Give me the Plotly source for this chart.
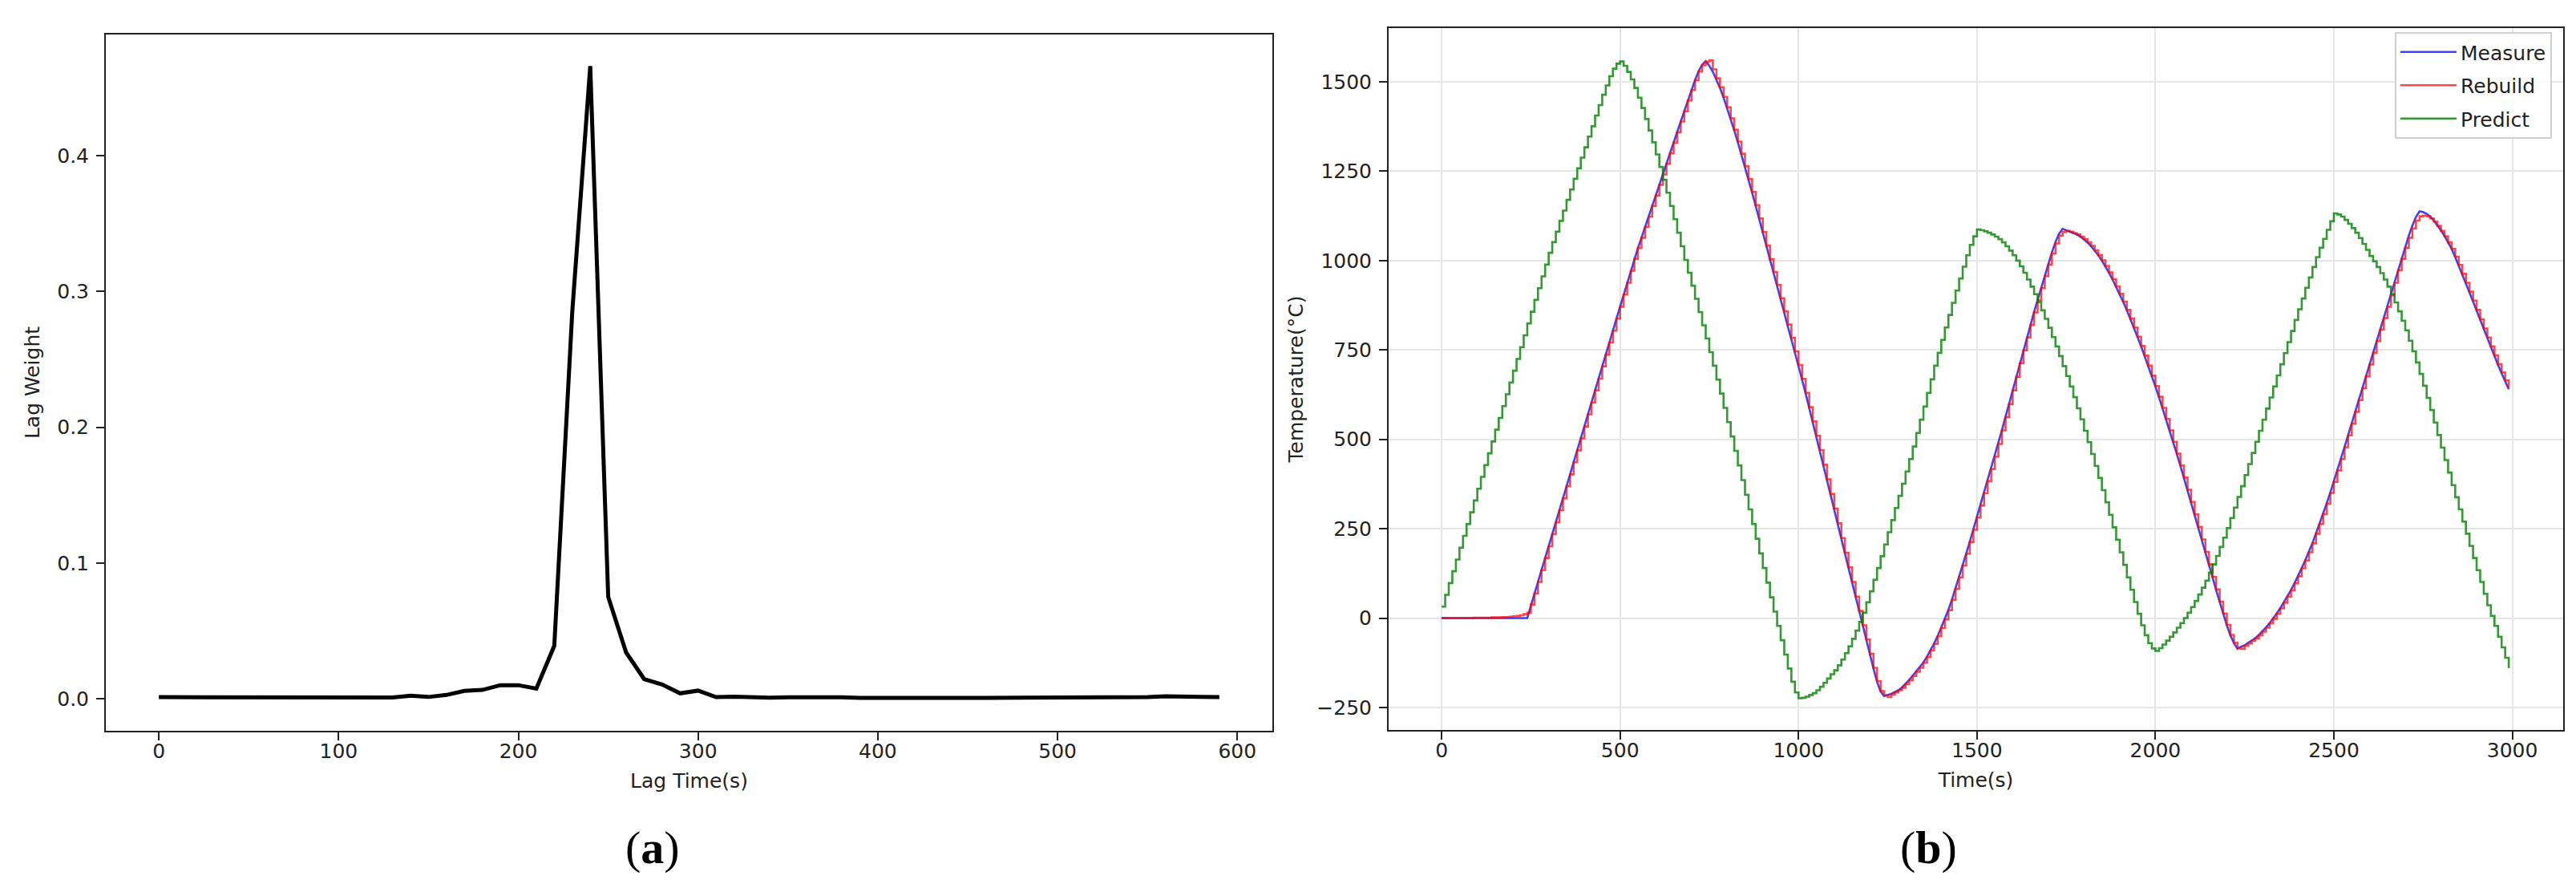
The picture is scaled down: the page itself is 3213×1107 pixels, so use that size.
import plotly.graph_objects as go

# ---------------- Panel (a): lag weights ----------------
lag_time = list(range(0, 600, 10))
lag_weight = [
    0.0012, 0.0012, 0.0007, 0.0010, 0.0008, 0.0006, 0.0006, 0.0007, 0.0008, 0.0009,
    0.0006, 0.0009, 0.0010, 0.0009, 0.0022, 0.0013, 0.0028, 0.0058, 0.0065, 0.0100,
    0.0100, 0.0075, 0.0390, 0.2850, 0.4660, 0.0750, 0.0340, 0.0145, 0.0105, 0.0040,
    0.0060, 0.0012, 0.0015, 0.0010, 0.0008, 0.0010, 0.0011, 0.0008, 0.0010, 0.0006,
    0.0005, 0.0005, 0.0006, 0.0006, 0.0005, 0.0006, 0.0007, 0.0007, 0.0008, 0.0008,
    0.0007, 0.0009, 0.0009, 0.0008, 0.0008, 0.0012, 0.0018, 0.0013, 0.0014, 0.0012,
]

# ---------------- Panel (b): temperatures ----------------
time_s = list(range(0, 3000, 10))

measure = [
    0, 0, 0, 0, 0, 0, 0, 0, 0, 0, 0, 0, 0, 0, 0, 0, 0, 0, 0, 0, 0, 0, 0, 0,
    0, 34, 67, 101, 134, 168, 201, 235, 268, 302, 335, 369, 402, 436, 469, 503,
    536, 570, 603, 637, 670, 704, 737, 771, 804, 838, 871, 905, 938, 972, 1005,
    1035, 1064, 1094, 1123, 1153, 1182, 1212, 1241, 1271, 1300, 1330, 1359, 1389,
    1418, 1448, 1477, 1505, 1530, 1548, 1558,
    1545, 1528, 1507, 1483, 1456, 1427, 1396, 1364, 1331, 1297, 1262, 1226, 1190,
    1153, 1116, 1078, 1040, 1002, 966, 930, 893, 856, 819, 782, 744, 706, 667, 628,
    588, 548, 508, 468, 427, 386, 345, 304, 263, 222, 181, 140, 99, 58, 18, -22,
    -62, -102, -141, -178, -205, -218,
    -215, -212, -207, -202, -194, -184, -173, -161, -149, -138, -124, -108, -90,
    -71, -50, -27, -3, 23, 52, 83, 115, 148, 181, 214, 248, 282, 316, 350, 384,
    418, 453, 488, 526, 563, 600, 638, 676, 714, 750, 786, 821, 856, 890, 924, 958,
    991, 1023, 1052, 1075, 1089,
    1085, 1082, 1078, 1073, 1067, 1060, 1051, 1040, 1028, 1015, 1000, 984, 966,
    947, 927, 906, 884, 861, 837, 812, 786, 760, 733, 705, 677, 648, 618, 587, 556,
    524, 492, 459, 426, 392, 358, 324, 289, 254, 219, 184, 149, 114, 79, 45, 12,
    -20, -48, -70, -86,
    -80, -76, -70, -63, -56, -47, -37, -26, -14, -1, 13, 28, 44, 61, 79, 98, 118,
    140, 162, 185, 210, 237, 264, 292, 321, 351, 382, 414, 446, 479, 512, 545, 578,
    611, 644, 677, 710, 743, 776, 808, 840, 872, 904, 939, 975, 1008, 1040, 1070,
    1098, 1122, 1138,
    1136, 1131, 1123, 1112, 1099, 1085, 1069, 1052, 1033, 1010, 986, 961, 936, 911,
    886, 860, 834, 808, 783, 758, 733, 708, 685, 662, 640,
]

rebuild = [
    0, 0, 0, 0, 0, 0, 0, 0, 0, 1, 1, 1, 1, 1, 2, 2, 2, 3, 3, 4, 5, 6, 8, 11,
    15, 38, 69, 101, 134, 168, 201, 235, 268, 302, 335, 369, 402, 436, 469, 503,
    536, 570, 603, 637, 670, 704, 737, 771, 804, 838, 871, 905, 938, 972, 1005,
    1035, 1064, 1094, 1123, 1153, 1182, 1212, 1241, 1271, 1300, 1330, 1359, 1389,
    1418, 1448, 1477, 1505, 1529, 1546, 1556,
    1560, 1535, 1510, 1485, 1458, 1429, 1398, 1366, 1333, 1299, 1264, 1228, 1192,
    1155, 1118, 1080, 1042, 1004, 968, 932, 895, 858, 821, 784, 746, 708, 669, 630,
    590, 550, 510, 470, 429, 388, 347, 306, 265, 224, 183, 142, 101, 60, 20, -20,
    -60, -100, -139, -176, -204, -216,
    -221, -214, -208, -202, -195, -185, -174, -162, -150, -139, -125, -109, -91,
    -72, -51, -28, -4, 22, 51, 82, 114, 147, 180, 213, 247, 281, 315, 349, 383,
    417, 452, 487, 525, 562, 599, 637, 675, 713, 749, 785, 820, 855, 889, 923, 957,
    989, 1020, 1048, 1070, 1080,
    1083, 1081, 1077, 1073, 1067, 1060, 1051, 1041, 1029, 1016, 1001, 985, 967,
    948, 928, 907, 885, 862, 838, 813, 787, 761, 734, 706, 678, 649, 619, 588, 557,
    525, 493, 460, 427, 393, 359, 325, 290, 255, 220, 185, 150, 115, 80, 46, 13,
    -19, -47, -69, -84,
    -86, -78, -71, -64, -57, -48, -38, -27, -15, -2, 12, 27, 43, 60, 78, 97, 117,
    139, 161, 184, 209, 236, 263, 291, 320, 350, 381, 413, 445, 478, 511, 544, 577,
    610, 643, 676, 709, 742, 775, 807, 839, 871, 903, 938, 973, 1005, 1036, 1064,
    1090, 1112, 1124,
    1126, 1124, 1118, 1109, 1097, 1083, 1068, 1051, 1033, 1011, 988, 963, 938, 913,
    888, 862, 836, 810, 785, 760, 735, 710, 687, 665, 645,
]

predict = [
    32, 65, 98, 131, 164, 197, 230, 263, 296, 329, 362, 395, 428, 461, 494, 527,
    560, 593, 626, 659, 692, 725, 758, 791, 824, 857, 890, 923, 956, 989, 1022,
    1052, 1081, 1111, 1140, 1170, 1199, 1229, 1258, 1288, 1317, 1347, 1376, 1406,
    1435, 1464, 1490, 1516, 1537, 1551, 1557,
    1545, 1528, 1507, 1483, 1456, 1427, 1396, 1364, 1331, 1297, 1262, 1226, 1190,
    1153, 1116, 1078, 1040, 1002, 966, 930, 893, 856, 819, 782, 744, 706, 667, 628,
    588, 548, 508, 468, 427, 386, 345, 304, 263, 222, 181, 140, 99, 58, 18, -22,
    -62, -102, -141, -178, -208, -224,
    -223, -220, -215, -210, -202, -192, -181, -169, -157, -146, -132, -116, -98,
    -79, -58, -35, -11, 15, 44, 75, 107, 140, 173, 206, 240, 274, 308, 342, 376,
    410, 445, 480, 518, 555, 592, 630, 668, 706, 742, 778, 813, 848, 882, 916, 950,
    983, 1015, 1044, 1068, 1087,
    1085, 1082, 1078, 1073, 1067, 1060, 1051, 1040, 1028, 1015, 1000, 984, 966,
    947, 927, 906, 884, 861, 837, 812, 786, 760, 733, 705, 677, 648, 618, 587, 556,
    524, 492, 459, 426, 392, 358, 324, 289, 254, 219, 184, 149, 114, 79, 45, 12,
    -20, -48, -70, -85, -92,
    -84, -74, -63, -52, -40, -27, -14, 0, 15, 31, 48, 66, 85, 105, 127, 150, 174,
    199, 225, 252, 280, 309, 339, 369, 400, 431, 462, 493, 524, 555, 586, 617, 648,
    679, 710, 741, 772, 803, 834, 864, 894, 924, 953, 982, 1010, 1036, 1061, 1086,
    1110, 1132,
    1129, 1123, 1114, 1103, 1091, 1078, 1063, 1047, 1030, 1013, 998, 982, 965, 947,
    927, 906, 883, 858, 832, 805, 776, 746, 715, 683, 650, 616, 582, 547, 512, 477,
    442, 407, 372, 338, 304, 270, 236, 202, 168, 134, 101, 68, 36, 6, -22, -52, -82,
    -111, -140,
]

W, H = 3213, 1107
FONT = "DejaVu Sans"
TXT = "#222222"
AX = "#222222"

fig = go.Figure()

fig.add_trace(go.Scatter(
    x=lag_time, y=lag_weight, mode="lines", name="Lag Weight",
    line=dict(color="black", width=5), showlegend=False,
    xaxis="x", yaxis="y",
))

fig.add_trace(go.Scatter(
    x=time_s, y=measure, mode="lines", name="Measure", legendgroup="m",
    line=dict(color="rgba(0,0,255,0.75)", width=2.6),
    xaxis="x2", yaxis="y2",
))
fig.add_trace(go.Scatter(
    x=time_s, y=rebuild, mode="lines", name="Rebuild", legendgroup="r",
    line=dict(color="rgba(255,0,0,0.72)", width=2.6, shape="hv"),
    xaxis="x2", yaxis="y2",
))
fig.add_trace(go.Scatter(
    x=time_s, y=predict, mode="lines", name="Predict", legendgroup="p",
    line=dict(color="rgba(0,128,0,0.8)", width=2.6, shape="hv"),
    xaxis="x2", yaxis="y2",
))


def px_x(p):
    return p / W


def px_y(p):
    return 1 - p / H


common = dict(
    showline=True, mirror=True, linecolor=AX, linewidth=2,
    ticks="outside", ticklen=10, tickwidth=2, tickcolor=AX,
    zeroline=False,
    tickfont=dict(family=FONT, size=25, color=TXT),
)

fig.update_layout(
    width=W, height=H, autosize=False,
    margin=dict(l=0, r=0, t=0, b=0),
    paper_bgcolor="white", plot_bgcolor="white",
    font=dict(family=FONT, size=25, color=TXT),
    xaxis=dict(
        domain=[px_x(124), px_x(1579)], anchor="y",
        range=[-29.5, 619.5], tickvals=[0, 100, 200, 300, 400, 500, 600],
        showgrid=False, ticklabelstandoff=-8,
        title=dict(text="Lag Time(s)", font=dict(family=FONT, size=25, color=TXT), standoff=14),
        **common,
    ),
    yaxis=dict(
        domain=[px_y(903), px_y(35)], anchor="x",
        range=[-0.0236, 0.4893],
        tickvals=[0, 0.1, 0.2, 0.3, 0.4],
        ticktext=["0.0", "0.1", "0.2", "0.3", "0.4"],
        showgrid=False, ticklabelstandoff=4,
        title=dict(text="Lag Weight", font=dict(family=FONT, size=25, color=TXT), standoff=14),
        **common,
    ),
    xaxis2=dict(
        domain=[px_x(1724), px_x(3189)], anchor="y2",
        range=[-148.5, 3142.5],
        tickvals=[0, 500, 1000, 1500, 2000, 2500, 3000],
        showgrid=True, gridcolor="#e6e6e6", gridwidth=2, ticklabelstandoff=-8,
        title=dict(text="Time(s)", font=dict(family=FONT, size=25, color=TXT), standoff=14),
        **common,
    ),
    yaxis2=dict(
        domain=[px_y(902), px_y(27)], anchor="x2",
        range=[-313, 1650.5],
        tickvals=[-250, 0, 250, 500, 750, 1000, 1250, 1500],
        ticktext=["\u2212250", "0", "250", "500", "750", "1000", "1250", "1500"],
        showgrid=True, gridcolor="#e6e6e6", gridwidth=2, ticklabelstandoff=4,
        title=dict(text="Temperature(°C)", font=dict(family=FONT, size=25, color=TXT), standoff=10),
        **common,
    ),
    legend=dict(
        x=px_x(3175), y=px_y(32), xanchor="right", yanchor="top",
        bgcolor="rgba(255,255,255,0.85)", bordercolor="#d0d0d0", borderwidth=2,
        font=dict(family=FONT, size=25, color=TXT),
        tracegroupgap=6, traceorder="grouped", itemwidth=70,
    ),
    annotations=[
        dict(text="(<b>a</b>)", x=px_x(806), y=px_y(1048), xref="paper", yref="paper",
             showarrow=False, font=dict(family="Liberation Serif", size=58, color="black"),
             xanchor="center", yanchor="middle"),
        dict(text="(<b>b</b>)", x=px_x(2397), y=px_y(1048), xref="paper", yref="paper",
             showarrow=False, font=dict(family="Liberation Serif", size=58, color="black"),
             xanchor="center", yanchor="middle"),
    ],
)

fig.write_html("out.html")
